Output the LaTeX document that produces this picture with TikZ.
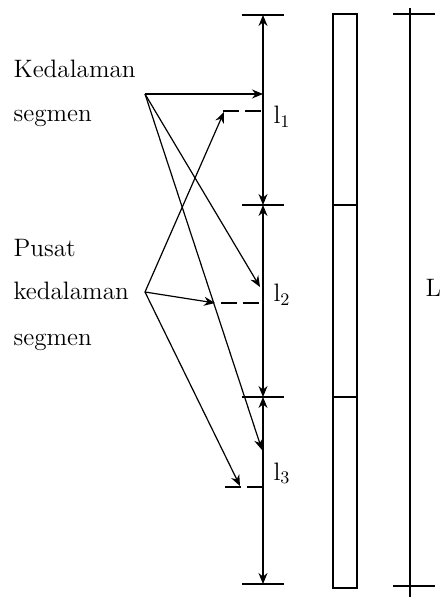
\documentclass[tikz,border=0pt]{standalone}
\usetikzlibrary{arrows.meta}
\begin{document}
\begin{tikzpicture}[x=0.5pt,y=-0.5pt,line width=0.6pt,>={Stealth[length=5.5pt,width=4.5pt,inset=1.8pt]},
lbl/.style={anchor=base west,inner sep=0pt,font=\fontsize{12.6}{14}\selectfont},
mid/.style={dash pattern=on 8pt off 3pt}]
\useasboundingbox (0,0) rectangle (442,597);
\node[lbl](k1) at (13,78){Kedalaman};
\node[lbl](k2) at (13,122){segmen};
\node[lbl](p1) at (13,257){Pusat};
\node[lbl](p2) at (13,300){kedalaman};
\node[lbl](p3) at (13,345){segmen};
\coordinate(kd) at (145,94);\coordinate(pk) at (145,292);
% segment lengths l1, l2, l3
\foreach \n/\y in {t0/15,t1/205,t2/397,t3/584}{\coordinate(\n) at (263,\y);\draw (242,\y)--(284,\y);}
\draw[<->](t0)--(t1);\draw[<->](t1)--(t2);\draw[<->](t2)--(t3);
\node[lbl](l1) at (273,124){l\textsubscript{1}};
\node[lbl](l2) at (273,302){l\textsubscript{2}};
\node[lbl](l3) at (273,480){l\textsubscript{3}};
% segment centres
\coordinate(c1) at (263,111);\coordinate(c2) at (263,303);\coordinate(c3) at (263,487);
\coordinate(d1) at (223,111);\coordinate(d2) at (221,303);\coordinate(d3) at (225,487);
\draw[mid](d1)--(c1);\draw[mid](d2)--(c2);\draw[mid](d3)--(c3);
\coordinate(a1) at (263,94);\coordinate(a2) at (260,287);\coordinate(a3) at (262,450);
\coordinate(b1) at (224,112);\coordinate(b2) at (215,303);\coordinate(b3) at (240,486);
\draw[->](kd)--(a1);\draw[->](kd)--(a2);\draw[->](kd)--(a3);
\draw[->](pk)--(b1);\draw[->](pk)--(b2);\draw[->](pk)--(b3);
% column and total length L
\draw (333,14) rectangle (357,588);
\draw (333,205)--(357,205);\draw (333,397)--(357,397);
\draw (410,8)--(410,597);\draw (393,14)--(435,14);\draw (393,586)--(435,586);
\node[lbl](L) at (425,297){L};
\end{tikzpicture}
\end{document}
